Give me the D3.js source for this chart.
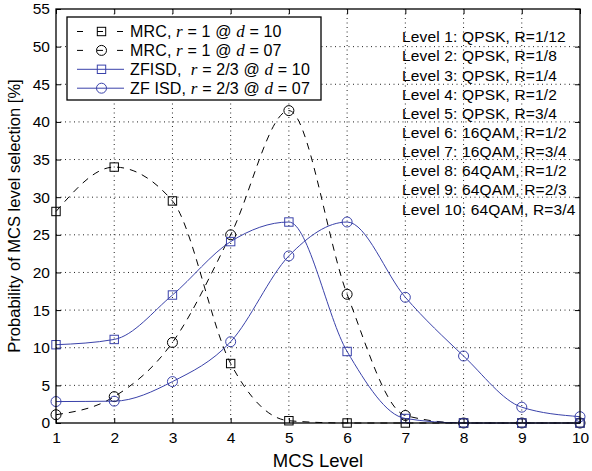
<!DOCTYPE html>
<html>
<head>
<meta charset="utf-8">
<script src="https://cdn.jsdelivr.net/npm/d3@7"></script>
<style>
  html, body { margin: 0; padding: 0; background: #fff; }
  svg { display: block; font-family: "Liberation Sans", Arial, Helvetica, sans-serif; }
</style>
</head>
<body>
<svg id="chart" width="592" height="471"></svg>
<script>
// MCS levels on the x axis
const mcsLevels = [1, 2, 3, 4, 5, 6, 7, 8, 9, 10];

// Probability of selecting each MCS level [%]
const mrcD10 = [28.1, 34.0, 29.5, 7.9, 0.3, 0, 0, 0, 0, 0];
const mrcD07 = [1.1, 3.5, 10.7, 25.0, 41.5, 17.1, 1.0, 0, 0, 0];
const zfisdD10 = [10.4, 11.1, 17.0, 24.1, 26.7, 9.5, 0.6, 0, 0, 0];
const zfisdD07 = [2.85, 2.9, 5.5, 10.8, 22.2, 26.7, 16.7, 8.9, 2.1, 0.84];

const yTicks = [0, 5, 10, 15, 20, 25, 30, 35, 40, 45, 50, 55];

const levelNotes = [
  "Level 1: QPSK, R=1/12",
  "Level 2: QPSK, R=1/8",
  "Level 3: QPSK, R=1/4",
  "Level 4: QPSK, R=1/2",
  "Level 5: QPSK, R=3/4",
  "Level 6: 16QAM, R=1/2",
  "Level 7: 16QAM, R=3/4",
  "Level 8: 64QAM, R=1/2",
  "Level 9: 64QAM, R=2/3",
  "Level 10: 64QAM, R=3/4"
];

const BLUE = "#3a42aa";
const series = [
  { values: mrcD10, color: "#000", dash: "7,6", marker: "square",
    label: [["MRC, ", null], ["r", "i"], [" = 1 @ ", null], ["d", "i"], [" = 10", null]] },
  { values: mrcD07, color: "#000", dash: "7,6", marker: "circle",
    label: [["MRC, ", null], ["r", "i"], [" = 1 @ ", null], ["d", "i"], [" = 07", null]] },
  { values: zfisdD10, color: BLUE, dash: null, marker: "square",
    label: [["ZFISD,  ", null], ["r", "i"], [" = 2/3 @ ", null], ["d", "i"], [" = 10", null]] },
  { values: zfisdD07, color: BLUE, dash: null, marker: "circle",
    label: [["ZF ISD, ", null], ["r", "i"], [" = 2/3 @ ", null], ["d", "i"], [" = 07", null]] }
];

const W = 592, H = 471;
const margin = { left: 56, right: 12, top: 9, bottom: 48 };
const iw = W - margin.left - margin.right;
const ih = H - margin.top - margin.bottom;

const svg = d3.select("#chart");
const g = svg.append("g").attr("transform", `translate(${margin.left},${margin.top})`);

const x = d3.scaleLinear().domain([1, 10]).range([0, iw]);
const y = d3.scaleLinear().domain([0, 55]).range([ih, 0]);

// dotted grid
g.append("g").selectAll("line").data(mcsLevels.slice(1, -1)).join("line")
  .attr("x1", d => x(d)).attr("x2", d => x(d)).attr("y1", 0).attr("y2", ih)
  .attr("stroke", "#222").attr("stroke-width", 1).attr("stroke-dasharray", "1,3.5");
g.append("g").selectAll("line").data(yTicks.slice(1, -1)).join("line")
  .attr("y1", d => y(d)).attr("y2", d => y(d)).attr("x1", 0).attr("x2", iw)
  .attr("stroke", "#222").attr("stroke-width", 1).attr("stroke-dasharray", "1,3.5");

// axes with inward ticks on all four sides
const tickLen = 5;
const styleAxis = sel => {
  sel.select(".domain").remove();
  sel.selectAll(".tick line").attr("stroke", "#000").attr("stroke-width", 1);
  sel.selectAll(".tick text").attr("font-size", 15.5).attr("fill", "#000")
    .attr("font-family", "Liberation Sans, Arial, sans-serif");
};
g.append("g").attr("transform", `translate(0,${ih})`)
  .call(d3.axisBottom(x).tickValues(mcsLevels).tickFormat(d3.format("d"))
    .tickSizeInner(-tickLen).tickSizeOuter(0).tickPadding(9))
  .call(styleAxis);
g.append("g")
  .call(d3.axisLeft(y).tickValues(yTicks).tickFormat(d3.format("d"))
    .tickSizeInner(-tickLen).tickSizeOuter(0).tickPadding(6))
  .call(styleAxis);
g.append("g")
  .call(d3.axisTop(x).tickValues(mcsLevels).tickFormat("")
    .tickSizeInner(-tickLen).tickSizeOuter(0))
  .call(styleAxis);
g.append("g").attr("transform", `translate(${iw},0)`)
  .call(d3.axisRight(y).tickValues(yTicks).tickFormat("")
    .tickSizeInner(-tickLen).tickSizeOuter(0))
  .call(styleAxis);

// series lines and markers
const line = d3.line().x((d, i) => x(mcsLevels[i])).y(d => y(d)).curve(d3.curveMonotoneX);

function drawMarker(sel, kind, color) {
  if (kind === "square") {
    sel.append("rect").attr("x", -4.2).attr("y", -4.2).attr("width", 8.4).attr("height", 8.4)
      .attr("fill", "none").attr("stroke", color).attr("stroke-width", 1);
  } else {
    sel.append("circle").attr("r", 5).attr("fill", "none")
      .attr("stroke", color).attr("stroke-width", 1);
  }
}

series.forEach(s => {
  g.append("path").datum(s.values).attr("d", line)
    .attr("fill", "none").attr("stroke", s.color).attr("stroke-width", 1)
    .attr("stroke-dasharray", s.dash);
  g.append("g").selectAll("g").data(s.values).join("g")
    .attr("transform", (d, i) => `translate(${x(mcsLevels[i])},${y(d)})`)
    .each(function () { drawMarker(d3.select(this), s.marker, s.color); });
});

// plot frame
g.append("rect").attr("width", iw).attr("height", ih)
  .attr("fill", "none").attr("stroke", "#000").attr("stroke-width", 1.3);

// legend
const leg = svg.append("g").attr("transform", "translate(67,17)");
leg.append("rect").attr("width", 254).attr("height", 83)
  .attr("fill", "#fff").attr("stroke", "#000").attr("stroke-width", 1.3);
series.forEach((s, i) => {
  const row = leg.append("g").attr("transform", `translate(0,${14.5 + i * 18.9})`);
  row.append("line").attr("x1", 10).attr("x2", 57).attr("y1", 0).attr("y2", 0)
    .attr("stroke", s.color).attr("stroke-width", 1)
    .attr("stroke-dasharray", s.dash ? "6,14" : null);
  drawMarker(row.append("g").attr("transform", "translate(34.5,0)"), s.marker, s.color);
  const t = row.append("text").attr("x", 63).attr("y", 5.5).attr("font-size", 16)
    .attr("letter-spacing", 0.15).attr("fill", "#000");
  s.label.forEach(([txt, st]) => {
    const sp = t.append("tspan").text(txt);
    if (st === "i") sp.attr("font-style", "italic").attr("font-family", "Liberation Serif, serif").attr("font-size", 17);
  });
  t.attr("xml:space", "preserve").style("white-space", "pre");
});

// MCS level descriptions
svg.append("g").selectAll("text").data(levelNotes).join("text")
  .attr("x", 402).attr("y", (d, i) => 42.2 + i * 19.15)
  .attr("font-size", 15.5).attr("letter-spacing", 0.15).attr("fill", "#000").text(d => d);

// axis titles
svg.append("text").attr("x", margin.left + iw / 2).attr("y", 467)
  .attr("text-anchor", "middle").attr("font-size", 18.5).text("MCS Level");
svg.append("text").attr("transform", `translate(20,${margin.top + ih / 2}) rotate(-90)`)
  .attr("text-anchor", "middle").attr("font-size", 16.5)
  .text("Probability of MCS level selection [%]");
</script>
</body>
</html>
